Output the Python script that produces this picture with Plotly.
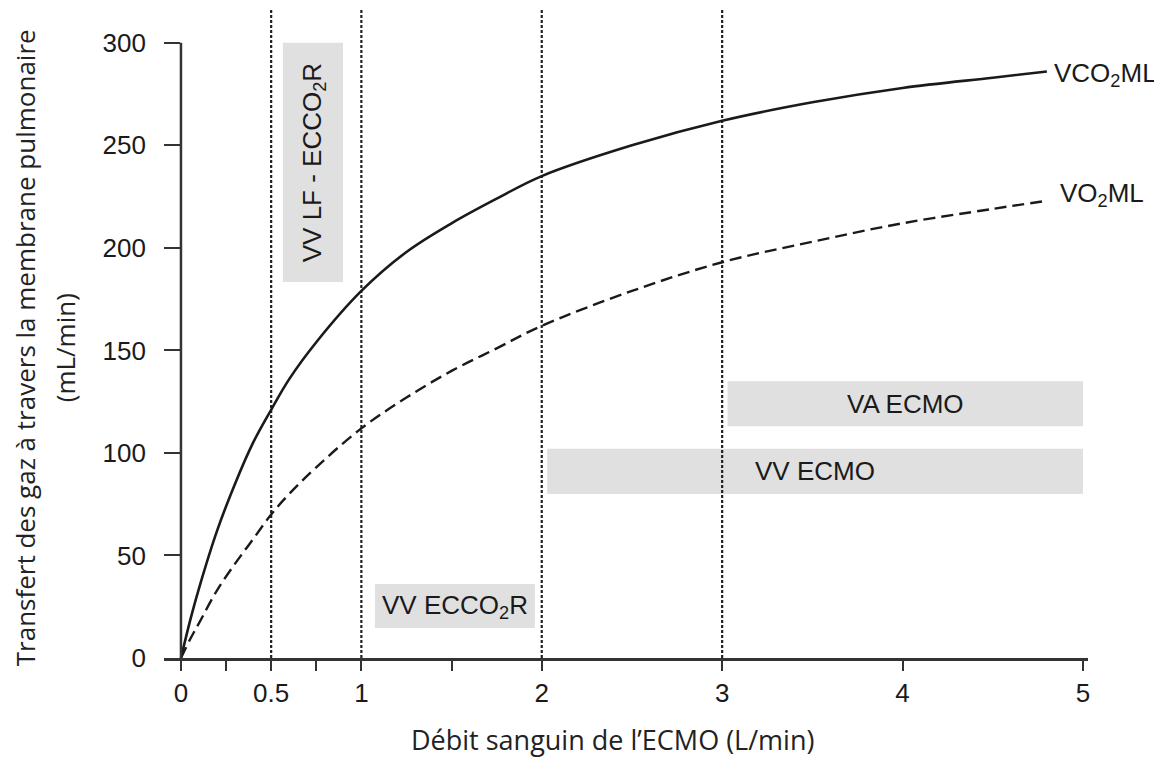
import plotly.graph_objects as go

# ---- data ----
flow = [0, 0.05, 0.1, 0.2, 0.3, 0.4, 0.5, 0.6, 0.75, 1, 1.25, 1.5, 1.75, 2, 2.5, 3, 3.5, 4, 4.5, 4.8]
vco2_ml = [0, 18, 34, 62, 85, 105, 121, 136, 154, 179, 198, 212, 224, 235, 250, 262, 271, 278, 283, 286]
vo2_ml = [0, 9, 17, 33, 46, 58, 70, 80, 93, 112, 127, 140, 151, 162, 179, 193, 203, 212, 219, 223]

x_tickvals = [0, 0.5, 1, 2, 3, 4, 5]
x_ticktext = ["0", "0.5", "1", "2", "3", "4", "5"]
x_minor_tickvals = [0.25, 0.75, 1.5]
y_tickvals = [0, 50, 100, 150, 200, 250, 300]

vlines_x = [0.5, 1, 2, 3]

# zones: (label, x0, x1, y0, y1, rotated)
zones = [
    ("VV LF - ECCO<sub>2</sub>R", 0.565, 0.898, 183.4, 300, True),
    ("VV ECCO<sub>2</sub>R", 1.075, 1.962, 14.6, 36.1, False),
    ("VA ECMO", 3.03, 5.0, 113, 135, False),
    ("VV ECMO", 2.03, 5.0, 80, 102, False),
]

series_labels = [("VCO<sub>2</sub>ML", 4.83, 284.4), ("VO<sub>2</sub>ML", 4.86, 225.9)]

FONT = "Liberation Sans, Arial, sans-serif"
TITLE_FONT = "Open Sans, sans-serif"
INK = "#1a1a1a"

fig = go.Figure()

fig.add_trace(go.Scatter(x=flow, y=vco2_ml, mode="lines", line=dict(color="#1a1a1a", width=2.6, shape="spline"),
                         showlegend=False, hoverinfo="skip"))
fig.add_trace(go.Scatter(x=flow, y=vo2_ml, mode="lines",
                         line=dict(color="#1a1a1a", width=2.4, shape="spline", dash="12px,6px"),
                         showlegend=False, hoverinfo="skip"))

shapes = []
for label, x0, x1, y0, y1, rot in zones:
    shapes.append(dict(type="rect", xref="x", yref="y", x0=x0, x1=x1, y0=y0, y1=y1,
                       fillcolor="#e0e0e0", line=dict(width=0), layer="below"))
for xv in vlines_x:
    shapes.append(dict(type="line", xref="x", yref="y", x0=xv, x1=xv, y0=0, y1=316,
                       line=dict(color="#222222", width=2.2, dash="3px,2px"), layer="below"))
# y axis line at x = 0
shapes.append(dict(type="line", xref="x", yref="y", x0=0, x1=0, y0=0, y1=300,
                   line=dict(color="#333333", width=2.5)))

annotations = []
for label, x0, x1, y0, y1, rot in zones:
    annotations.append(dict(x=(x0 + x1) / 2, y=(y0 + y1) / 2, xref="x", yref="y", text=label,
                            showarrow=False, textangle=-90 if rot else 0,
                            font=dict(family=FONT, size=26, color=INK)))
for label, xv, yv in series_labels:
    annotations.append(dict(x=xv, y=yv, xref="x", yref="y", text=label, showarrow=False,
                            xanchor="left", yanchor="middle",
                            font=dict(family=FONT, size=26, color=INK)))
# y axis title (two lines)
annotations.append(dict(x=(25 - 164) / 924, y=0.478, xref="paper", yref="paper",
                        text="Transfert des gaz à travers la membrane pulmonaire",
                        showarrow=False, textangle=-90, xanchor="center", yanchor="middle",
                        font=dict(family=TITLE_FONT, size=26, color="#222222")))
annotations.append(dict(x=(65 - 164) / 924, y=0.478, xref="paper", yref="paper", text="(mL/min)",
                        showarrow=False, textangle=-90, xanchor="center", yanchor="middle",
                        font=dict(family=TITLE_FONT, size=26, color="#222222")))
# x axis title
annotations.append(dict(x=(612 - 164) / 924, y=-(740 - 658) / 648, xref="paper", yref="paper",
                        text="Débit sanguin de l’ECMO (L/min)", showarrow=False,
                        xanchor="center", yanchor="middle",
                        font=dict(family=TITLE_FONT, size=27, color="#222222")))

fig.update_layout(
    width=1154, height=750, autosize=False,
    margin=dict(l=156, r=74, t=2, b=100),
    paper_bgcolor="white", plot_bgcolor="white",
    shapes=shapes, annotations=annotations,
    xaxis=dict(range=[-0.094, 5.028], showline=True, linewidth=3, linecolor="#333333",
               ticks="outside", ticklen=10, tickwidth=2, tickcolor="#333333",
               tickvals=x_tickvals, ticktext=x_ticktext, showgrid=False, zeroline=False,
               minor=dict(tickvals=x_minor_tickvals, ticks="outside", ticklen=10, tickwidth=2,
                          tickcolor="#333333", showgrid=False),
               tickfont=dict(family=FONT, size=26, color=INK), ticklabelstandoff=0),
    yaxis=dict(range=[0, 316], showline=False, ticks="inside", ticklen=16, tickwidth=2,
               tickcolor="#333333", tickvals=y_tickvals, showgrid=False, zeroline=False,
               tickfont=dict(family=FONT, size=26, color=INK), ticklabelstandoff=17),
)

fig.write_html("out.html")
